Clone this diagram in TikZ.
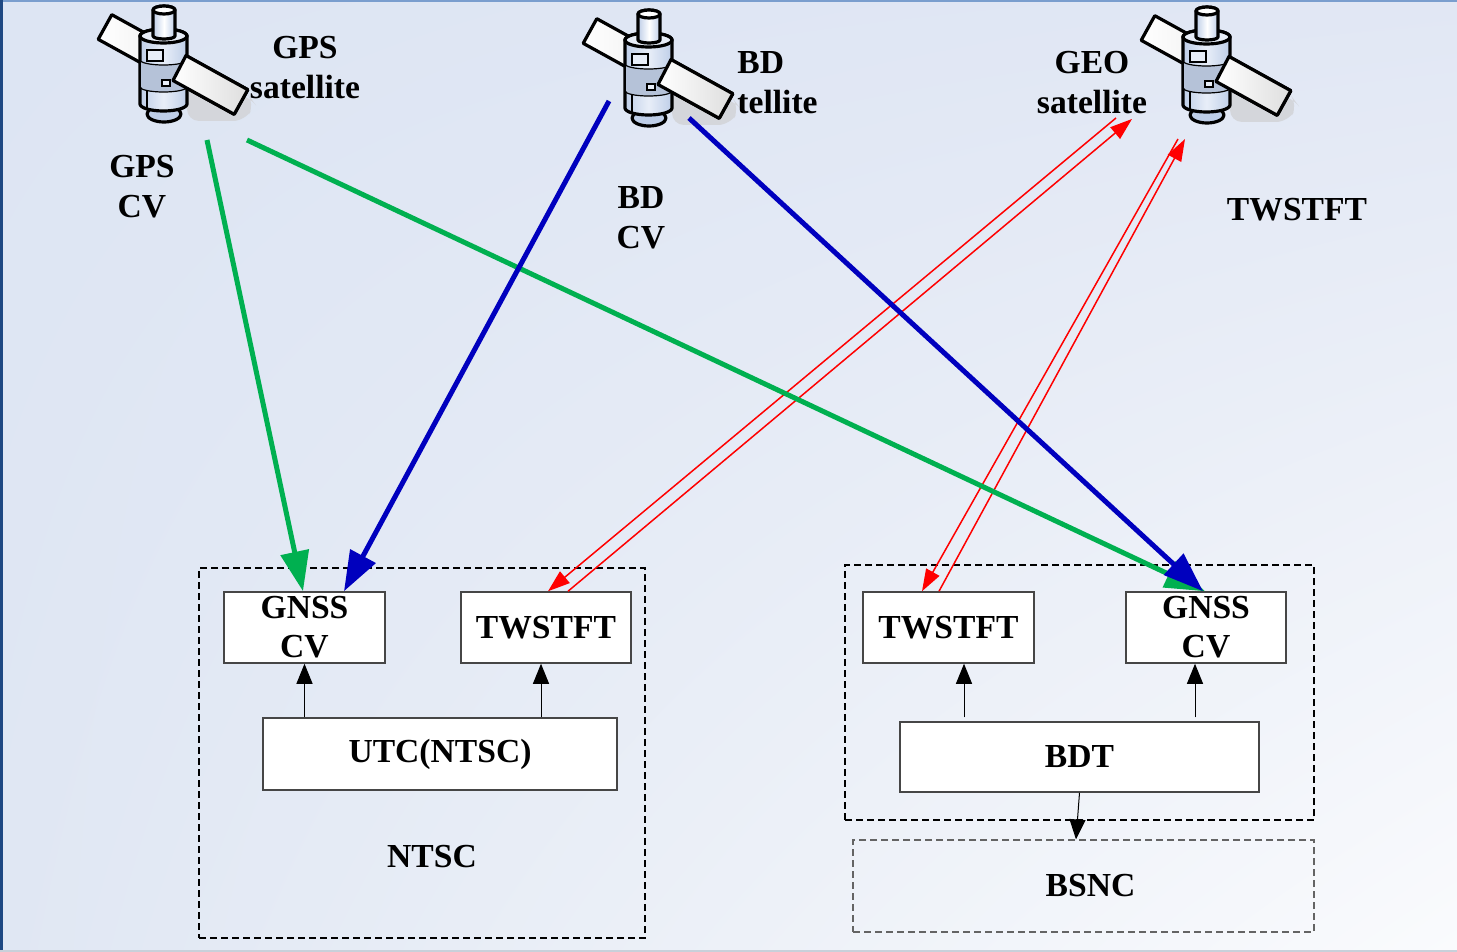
\documentclass[tikz,border=0pt]{standalone}
\usepackage{fontspec}
\setmainfont{Liberation Serif}
\usetikzlibrary{arrows.meta,calc,shadings}
\definecolor{cgreen}{RGB}{0,176,80}
\definecolor{cblue}{RGB}{0,0,190}
\definecolor{cred}{RGB}{255,0,0}
\definecolor{bgTL}{RGB}{221,229,243}
\definecolor{bgTR}{RGB}{225,231,244}
\definecolor{bgBL}{RGB}{224,231,243}
\definecolor{bgBR}{RGB}{250,251,253}
\definecolor{topline}{RGB}{122,158,206}
\definecolor{leftline}{RGB}{30,72,130}
\definecolor{botline}{RGB}{200,208,218}
\definecolor{bsncline}{RGB}{100,100,100}
\definecolor{satbody}{RGB}{190,206,232}
\definecolor{satlight}{RGB}{232,238,248}
\definecolor{satpanel}{RGB}{222,222,222}
\definecolor{satshadow}{RGB}{212,214,219}
\definecolor{boxline}{RGB}{70,70,70}
\tikzset{
  satline/.style={line width=1.6pt,draw=black,line join=round},
  satthin/.style={line width=0.6pt,draw=black},
  satellite/.pic={
    \fill[satshadow,rounded corners=6] (187,86) -- (249,96) -- (255,104) -- (245,121) -- (187,121) -- cycle;
    \draw[satline,left color=white,right color=satpanel] (111.8,14.7) -- (247.8,89.7) -- (234.2,114.3) -- (98.2,39.3) -- cycle;
    \draw[satline,fill=satbody] (164,114) ellipse[x radius=17,y radius=8];
    \draw[satline,left color=satbody,right color=satbody,middle color=satlight] (140,36) -- (140,104)
       arc[start angle=180,end angle=0,x radius=23.5,y radius=7] -- (187,36)
       arc[start angle=0,end angle=-180,x radius=23.5,y radius=7] -- cycle;
    \fill[satbody!85!gray] (141,60) arc[start angle=180,end angle=0,x radius=22.5,y radius=5] -- (186,87)
       arc[start angle=0,end angle=180,x radius=22.5,y radius=5] -- cycle;
    \draw[satthin] (140,60) arc[start angle=180,end angle=0,x radius=23.5,y radius=5];
    \draw[satthin] (140,87) arc[start angle=180,end angle=0,x radius=23.5,y radius=5];
    \draw[satthin,fill=satlight] (147,50) rectangle (163,61);
    \draw[satthin,fill=satlight] (162,80) rectangle (170,86);
    \draw[satthin] (147,90) -- (147,109);
    \draw[satline,fill=satlight] (163.5,36) ellipse[x radius=23.5,y radius=7];
    \draw[satline,left color=satbody,right color=satbody,middle color=white] (153,36) -- (153,10)
       arc[start angle=180,end angle=360,x radius=11,y radius=4] -- (175,36)
       arc[start angle=0,end angle=180,x radius=11,y radius=3] -- cycle;
    \draw[satline,fill=white] (164,10) ellipse[x radius=11,y radius=4];
    \draw[satline,left color=white,right color=satpanel] (186,55.5) -- (247.8,89.7) -- (234.2,114.3) -- (173,80.5) -- cycle;
  },
  lbl/.style={font=\fontsize{16.8}{20}\selectfont\bfseries,align=center,inner sep=0pt},
  blk/.style={draw=boxline,line width=0.75pt,fill=white,inner sep=0pt,
     font=\fontsize{16.8}{19.5}\selectfont\bfseries,align=center},
  dbox/.style={draw=black,line width=0.55pt,dash pattern=on 3.5pt off 2pt,inner sep=0pt},
  garrow/.style={draw=cgreen,line width=2.5pt,-{Triangle[length=20pt,width=14pt]}},
  barrow/.style={draw=cblue,line width=2.5pt,-{Triangle[length=20pt,width=14pt]}},
  rarrow/.style={draw=cred,line width=0.75pt,-{Triangle[length=11pt,width=7.5pt]}},
  karrow/.style={draw=black,line width=0.5pt,-{Triangle[length=10pt,width=8pt]}},
}
\begin{document}
\begin{tikzpicture}[x=0.5pt,y=-0.5pt]
\useasboundingbox (0,0) rectangle (1457,952);
\shade[upper left=bgTL,upper right=bgTR,lower left=bgBL,lower right=bgBR] (0,0) rectangle (1457,952);
\fill[topline] (0,0) rectangle (1457,2);
\fill[leftline] (0,0) rectangle (3,952);
\fill[botline] (0,950) rectangle (1457,952);

% containers
\node[dbox,minimum width=223pt,minimum height=185pt] (ntscbox) at (422,753) {};
\node[dbox,minimum width=234.5pt,minimum height=127.5pt] (bdbox) at (1079.5,692.5) {};
\node[dbox,draw=bsncline,minimum width=230.5pt,minimum height=46pt,
      font=\fontsize{16.8}{20}\selectfont\bfseries] (bsnc) at (1083.5,886) {\hspace*{7pt}BSNC};

% satellites
\pic at (0,0) {satellite};
\pic at (485,4) {satellite};
\pic at (1043,1) {satellite};

% labels
\node[lbl] (lgps) at (305,68) {GPS\\satellite};
\node[lbl] (lgpscv) at (142,187) {GPS\\CV};
\node[lbl,align=left,anchor=west] (lbd) at (737,83) {BD\\tellite};
\node[lbl] (lbdcv) at (641,218) {BD\\CV};
\node[lbl] (lgeo) at (1092,83) {GEO\\satellite};
\node[lbl] (ltw) at (1297,210) {TWSTFT};
\node[lbl] (lntsc) at (432,857) {NTSC};

% boxes
\node[blk,minimum width=80.5pt,minimum height=35.5pt] (gcvL) at (304.5,627.5) {GNSS\\CV};
\node[blk,minimum width=85pt,minimum height=35.5pt] (twL) at (546,627.5) {TWSTFT};
\node[blk,minimum width=177pt,minimum height=36pt] (utc) at (440,754) {UTC(NTSC)};
\node[blk,minimum width=85.5pt,minimum height=35.5pt] (twR) at (948.5,627.5) {TWSTFT};
\node[blk,minimum width=80pt,minimum height=35.5pt] (gcvR) at (1206,627.5) {GNSS\\CV};
\node[blk,minimum width=179.5pt,minimum height=35pt] (bdt) at (1079.5,757) {BDT};

% free ends at satellites
\coordinate (gps1) at (207,140);
\coordinate (gps2) at (247,140);
\coordinate (bd1) at (609,101);
\coordinate (bd2) at (689,118);
\coordinate (geoA) at (1116,118);
\coordinate (geoB) at (1132,119);
\coordinate (geoC) at (1178,139);
\coordinate (geoD) at (1185,139);

% black arrows
\draw[karrow] (utc.north -| gcvL.south) -- (gcvL.south);
\draw[karrow] ([xshift=-2.5pt]twL.south |- utc.north) -- ([xshift=-2.5pt]twL.south);
\draw[karrow] ([xshift=7.75pt,yshift=2pt]twR.south |- bdt.north) -- ([xshift=7.75pt]twR.south);
\draw[karrow] ([xshift=-5.5pt,yshift=2pt]gcvR.south |- bdt.north) -- ([xshift=-5.5pt]gcvR.south);
\draw[karrow] (bdt.south) -- ([xshift=-3.75pt]bsnc.north);

% red arrows
\draw[rarrow] (geoA) -- ([xshift=1pt]twL.north);
\draw[rarrow] ([xshift=11pt]twL.north) -- (geoB);
\draw[rarrow] (geoC) -- ([xshift=-13.25pt]twR.north);
\draw[rarrow] ([xshift=-4.75pt]twR.north) -- (geoD);

% green and blue arrows
\draw[garrow] (gps2) -- ([xshift=-0.5pt]gcvR.north);
\draw[barrow] (bd2) -- ([xshift=-1.5pt]gcvR.north);
\draw[garrow] (gps1) -- ([xshift=-0.75pt]gcvL.north);
\draw[barrow] (bd1) -- ([xshift=19.75pt]gcvL.north);
\end{tikzpicture}
\end{document}
